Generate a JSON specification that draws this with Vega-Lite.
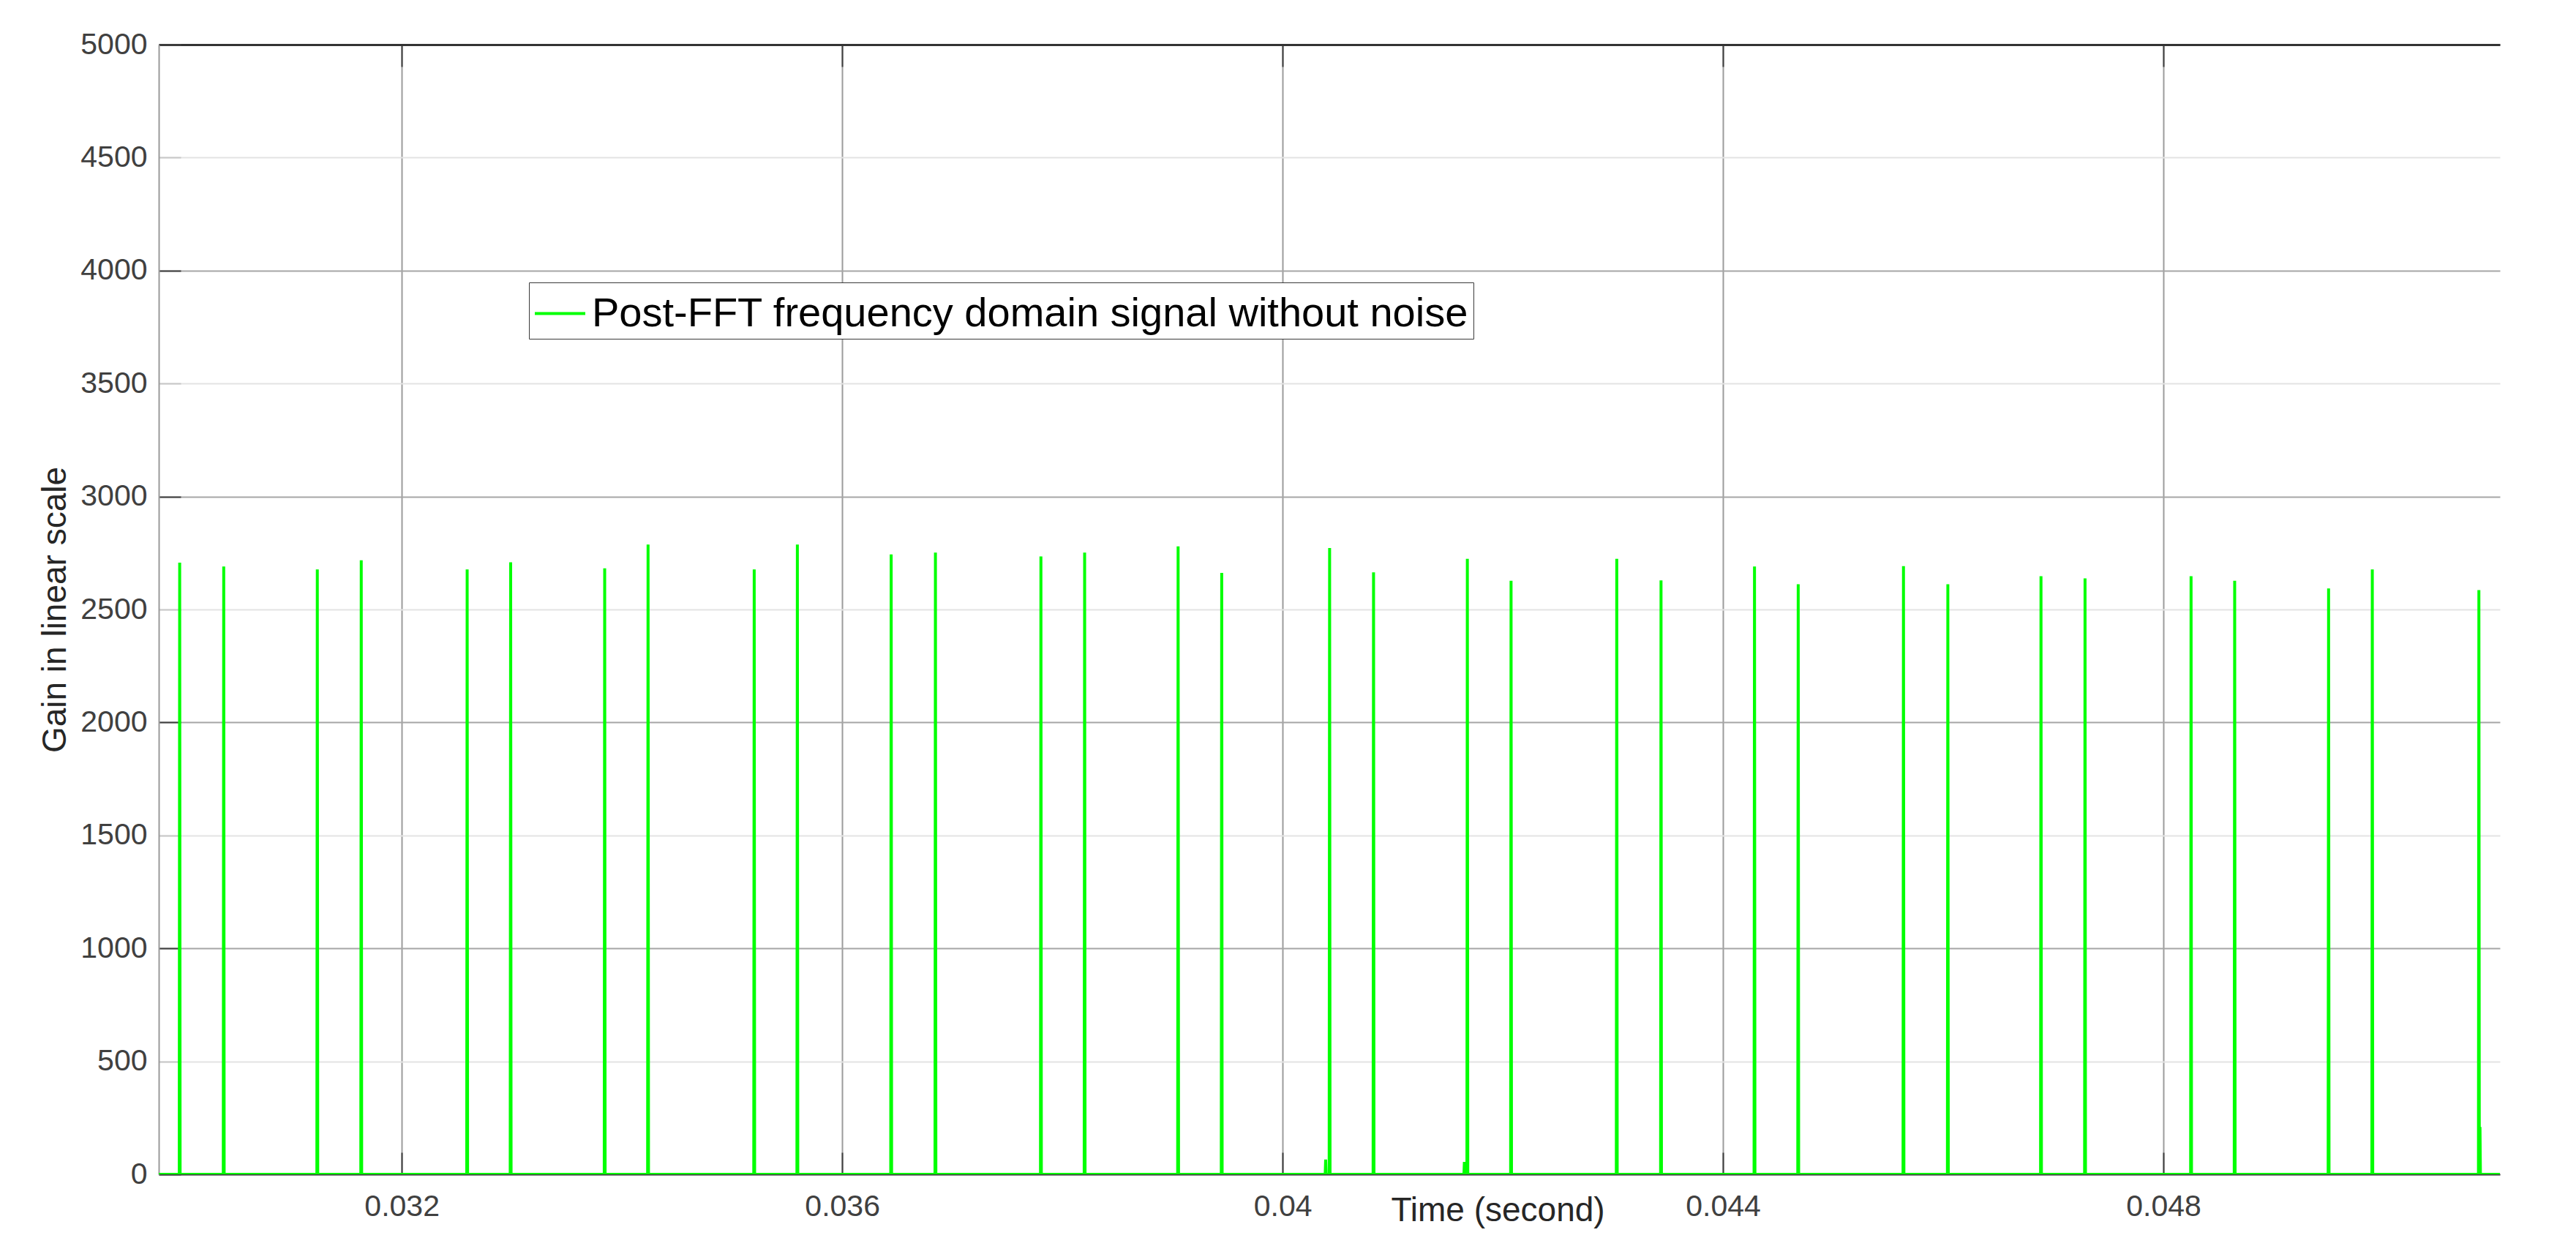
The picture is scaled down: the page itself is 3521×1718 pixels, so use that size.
{
  "$schema": "https://vega.github.io/schema/vega-lite/v6.json",
  "width": 3200,
  "height": 1544,
  "autosize": {"type": "none"},
  "padding": {"left": 217, "top": 61, "right": 104, "bottom": 113},
  "background": "white",
  "config": {
    "font": "Liberation Sans",
    "view": {"stroke": null}
  },
  "data": {
    "values": [
      {"t": 0.029793, "gain": 0},
      {"t": 0.029979, "gain": 0}, {"t": 0.029983, "gain": 2707}, {"t": 0.029987, "gain": 0},
      {"t": 0.030379, "gain": 0}, {"t": 0.030383, "gain": 2690}, {"t": 0.030387, "gain": 0},
      {"t": 0.031229, "gain": 0}, {"t": 0.031233, "gain": 2677}, {"t": 0.031237, "gain": 0},
      {"t": 0.031628, "gain": 0}, {"t": 0.031632, "gain": 2718}, {"t": 0.031636, "gain": 0},
      {"t": 0.03259, "gain": 0}, {"t": 0.032594, "gain": 2677}, {"t": 0.032598, "gain": 0},
      {"t": 0.032985, "gain": 0}, {"t": 0.032989, "gain": 2709}, {"t": 0.032993, "gain": 0},
      {"t": 0.033839, "gain": 0}, {"t": 0.033843, "gain": 2682}, {"t": 0.033847, "gain": 0},
      {"t": 0.034233, "gain": 0}, {"t": 0.034237, "gain": 2787}, {"t": 0.034241, "gain": 0},
      {"t": 0.035197, "gain": 0}, {"t": 0.035201, "gain": 2677}, {"t": 0.035205, "gain": 0},
      {"t": 0.035589, "gain": 0}, {"t": 0.035593, "gain": 2787}, {"t": 0.035597, "gain": 0},
      {"t": 0.036441, "gain": 0}, {"t": 0.036445, "gain": 2744}, {"t": 0.036449, "gain": 0},
      {"t": 0.036843, "gain": 0}, {"t": 0.036847, "gain": 2752}, {"t": 0.036851, "gain": 0},
      {"t": 0.037801, "gain": 0}, {"t": 0.037805, "gain": 2735}, {"t": 0.037809, "gain": 0},
      {"t": 0.038198, "gain": 0}, {"t": 0.038202, "gain": 2752}, {"t": 0.038206, "gain": 0},
      {"t": 0.039047, "gain": 0}, {"t": 0.039051, "gain": 2779}, {"t": 0.039055, "gain": 0},
      {"t": 0.039443, "gain": 0}, {"t": 0.039447, "gain": 2662}, {"t": 0.039451, "gain": 0},
      {"t": 0.040387, "gain": 0}, {"t": 0.040391, "gain": 65}, {"t": 0.040395, "gain": 0},
      {"t": 0.040423, "gain": 0}, {"t": 0.040427, "gain": 2772}, {"t": 0.040431, "gain": 0},
      {"t": 0.040822, "gain": 0}, {"t": 0.040826, "gain": 2664}, {"t": 0.04083, "gain": 0},
      {"t": 0.041647, "gain": 0}, {"t": 0.041651, "gain": 55}, {"t": 0.041655, "gain": 0},
      {"t": 0.041674, "gain": 0}, {"t": 0.041678, "gain": 2724}, {"t": 0.041682, "gain": 0},
      {"t": 0.042071, "gain": 0}, {"t": 0.042075, "gain": 2627}, {"t": 0.042079, "gain": 0},
      {"t": 0.043031, "gain": 0}, {"t": 0.043035, "gain": 2724}, {"t": 0.043039, "gain": 0},
      {"t": 0.043433, "gain": 0}, {"t": 0.043437, "gain": 2629}, {"t": 0.043441, "gain": 0},
      {"t": 0.044282, "gain": 0}, {"t": 0.044286, "gain": 2690}, {"t": 0.04429, "gain": 0},
      {"t": 0.044679, "gain": 0}, {"t": 0.044683, "gain": 2612}, {"t": 0.044687, "gain": 0},
      {"t": 0.045635, "gain": 0}, {"t": 0.045639, "gain": 2692}, {"t": 0.045643, "gain": 0},
      {"t": 0.046038, "gain": 0}, {"t": 0.046042, "gain": 2612}, {"t": 0.046046, "gain": 0},
      {"t": 0.046884, "gain": 0}, {"t": 0.046888, "gain": 2647}, {"t": 0.046892, "gain": 0},
      {"t": 0.047284, "gain": 0}, {"t": 0.047288, "gain": 2638}, {"t": 0.047292, "gain": 0},
      {"t": 0.048247, "gain": 0}, {"t": 0.048251, "gain": 2647}, {"t": 0.048255, "gain": 0},
      {"t": 0.048643, "gain": 0}, {"t": 0.048647, "gain": 2627}, {"t": 0.048651, "gain": 0},
      {"t": 0.049496, "gain": 0}, {"t": 0.0495, "gain": 2593}, {"t": 0.049504, "gain": 0},
      {"t": 0.049893, "gain": 0}, {"t": 0.049897, "gain": 2677}, {"t": 0.049901, "gain": 0},
      {"t": 0.050861, "gain": 0}, {"t": 0.050865, "gain": 2586}, {"t": 0.050869, "gain": 0},
      {"t": 0.050871, "gain": 0}, {"t": 0.050875, "gain": 210}, {"t": 0.050879, "gain": 0},
      {"t": 0.051056, "gain": 0}
    ]
  },
  "layer": [
    {
      "mark": {"type": "line", "strokeWidth": 4, "strokeJoin": "bevel", "clip": true},
      "encoding": {
        "x": {
          "field": "t",
          "type": "quantitative",
          "scale": {"domain": [0.029793, 0.051056], "nice": false, "zero": false},
          "axis": {
            "orient": "bottom",
            "values": [0.032, 0.036, 0.04, 0.044, 0.048],
            "format": "~g",
            "grid": true,
            "gridColor": "#9c9c9c",
            "gridWidth": 2,
            "domain": true,
            "domainColor": "#404040",
            "domainWidth": 2,
            "ticks": true,
            "tickSize": -30,
            "tickColor": "#404040",
            "tickWidth": 2,
            "labelFontSize": 41,
            "labelColor": "#404040",
            "labelPadding": 54,
            "title": "Time (second)",
            "titleFontSize": 46,
            "titleFontWeight": "normal",
            "titleColor": "#262626",
            "titleX": 1830,
            "titleY": 27,
            "titleBaseline": "top",
            "titleAlign": "center"
          }
        },
        "y": {
          "field": "gain",
          "type": "quantitative",
          "scale": {"domain": [0, 5000], "nice": false},
          "axis": {
            "values": [0, 500, 1000, 1500, 2000, 2500, 3000, 3500, 4000, 4500, 5000],
            "format": "d",
            "grid": true,
            "gridColor": {"condition": {"test": "datum.value % 1000 === 0", "value": "#a6a6a6"}, "value": "#e3e3e3"},
            "gridWidth": 2,
            "domain": true,
            "domainColor": "#9a9a9a",
            "domainWidth": 2,
            "ticks": true,
            "tickSize": -30,
            "tickColor": {"condition": {"test": "datum.value % 1000 === 0", "value": "#404040"}, "value": "#c8c8c8"},
            "tickWidth": 2,
            "labelFontSize": 41,
            "labelColor": "#404040",
            "labelPadding": 46,
            "title": "Gain in linear scale",
            "titleFontSize": 46,
            "titleFontWeight": "normal",
            "titleColor": "#262626",
            "titleX": -142,
            "titleY": 772,
            "titleAngle": -90,
            "titleBaseline": "middle",
            "titleAlign": "center"
          }
        },
        "color": {
          "datum": "Post-FFT frequency domain signal without noise",
          "type": "nominal",
          "scale": {"range": ["#00ff00"]},
          "legend": {
            "orient": "none",
            "legendX": 506,
            "legendY": 325,
            "title": null,
            "symbolType": "stroke",
            "symbolSize": 4761,
            "symbolStrokeWidth": 4,
            "symbolStrokeColor": "#00ff00",
            "labelFontSize": 56,
            "labelColor": "#000000",
            "labelOffset": 7,
            "labelLimit": 3000,
            "padding": 6,
            "strokeColor": "#3a3a3a",
            "fillColor": "#ffffff"
          }
        }
      }
    },
    {
      "mark": {"type": "line", "opacity": 0},
      "encoding": {
        "x": {
          "field": "t",
          "type": "quantitative",
          "scale": {"domain": [0.029793, 0.051056], "nice": false, "zero": false},
          "axis": {
            "orient": "top",
            "values": [0.032, 0.036, 0.04, 0.044, 0.048],
            "grid": false,
            "labels": false,
            "title": null,
            "domain": true,
            "domainColor": "#333333",
            "domainWidth": 3,
            "ticks": true,
            "tickSize": -30,
            "tickColor": "#404040",
            "tickWidth": 2
          }
        },
        "y": {
          "field": "gain",
          "type": "quantitative",
          "axis": null
        }
      }
    }
  ],
  "resolve": {"axis": {"x": "independent", "y": "independent"}}
}
